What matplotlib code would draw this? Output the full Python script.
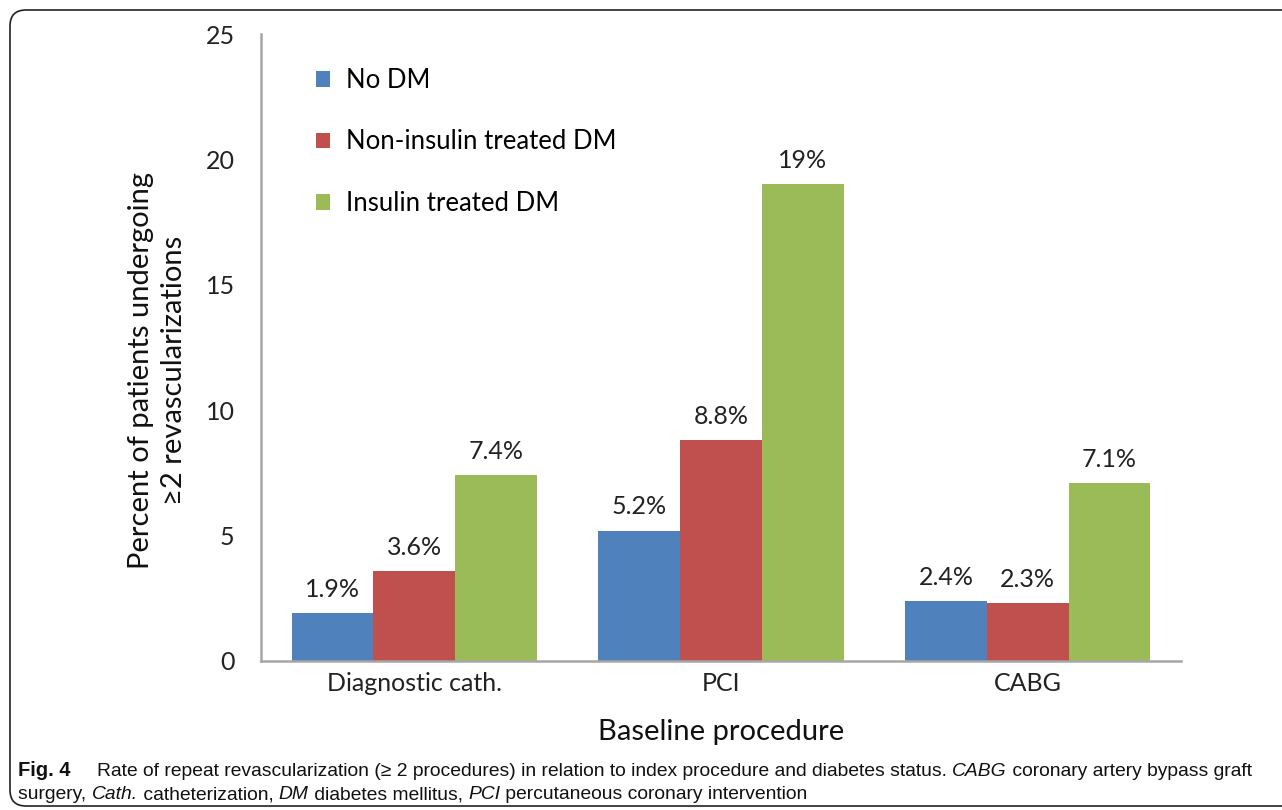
import matplotlib
matplotlib.use("Agg")
import matplotlib.pyplot as plt
import numpy as np
from matplotlib.patches import Patch, FancyBboxPatch
from matplotlib.transforms import IdentityTransform

# data
procedures = ["Diagnostic cath.", "PCI", "CABG"]
no_dm = [1.9, 5.2, 2.4]
non_insulin_dm = [3.6, 8.8, 2.3]
insulin_dm = [7.4, 19, 7.1]
series_names = ["No DM", "Non-insulin treated DM", "Insulin treated DM"]
series_colors = ["#4F81BD", "#C0504D", "#9BBB59"]
y_ticks = [0, 5, 10, 15, 20, 25]

W, H = 1282, 810
plt.rcParams['font.family'] = ['Lato', 'DejaVu Sans']

fig = plt.figure(figsize=(W / 100, H / 100), dpi=100)
ax = fig.add_axes([261 / W, 1 - 661 / H, 920 / W, 627 / H])

x = np.arange(len(procedures))
bw = 0.8 / 3
for i, (vals, col) in enumerate(zip([no_dm, non_insulin_dm, insulin_dm], series_colors)):
    pos = x + (i - 1) * bw
    ax.bar(pos, vals, width=bw, color=col, edgecolor='none', zorder=2)
    for p, v in zip(pos, vals):
        ax.annotate(f"{v:g}%", (p, v), xytext=(0, 17), textcoords='offset points',
                    ha='center', va='center', fontsize=18, color='#222222')

ax.set_xlim(-0.5, 2.5)
ax.set_ylim(0, 25)
ax.set_yticks(y_ticks)
ax.set_xticks(x)
ax.set_xticklabels(procedures)
ax.tick_params(axis='both', length=0, labelsize=18, colors='#222222')
ax.tick_params(axis='y', pad=19)
ax.tick_params(axis='x', pad=8)
for s in ['top', 'right']:
    ax.spines[s].set_visible(False)
for s in ['left', 'bottom']:
    ax.spines[s].set_color('#A6A6A6')
    ax.spines[s].set_linewidth(1.8)

ax.set_ylabel("Percent of patients undergoing\n≥2 revascularizations", fontsize=21,
              linespacing=1.35, color='#111111')
ax.yaxis.set_label_coords(-0.08, 0.464)
ax.set_xlabel("Baseline procedure", fontsize=21, color='#111111')
ax.xaxis.set_label_coords(0.5, -0.093)

handles = [Patch(facecolor=c, label=n) for c, n in zip(series_colors, series_names)]
ax.legend(handles=handles, loc='upper left', bbox_to_anchor=(316 / W, 1 - 68 / H),
          bbox_transform=fig.transFigure, frameon=False, fontsize=18.5,
          handlelength=0.55, handleheight=0.55, handletextpad=0.6,
          labelspacing=1.42, borderpad=0, borderaxespad=0)

# frame around figure + caption
frame = FancyBboxPatch((10, 4), 1400, 796, boxstyle="round,pad=0,rounding_size=16",
                       transform=IdentityTransform(), facecolor='none',
                       edgecolor='#222222', linewidth=1.2)
fig.add_artist(frame)

cap_font = ['Liberation Sans Narrow', 'Liberation Sans', 'DejaVu Sans']
renderer = fig.canvas.get_renderer()


def rich_line(x0, y0, pieces, size=13.9):
    xx = x0
    for txt, style in pieces:
        t = fig.text(xx / W, 1 - y0 / H, txt, fontsize=size, family=cap_font,
                     va='baseline', ha='left', color='#111111', **style)
        xx += t.get_window_extent(renderer).width


rich_line(18, 776, [("Fig. 4", {'fontweight': 'bold'})], size=14.5)
rich_line(97, 776, [
    ("Rate of repeat revascularization (≥ 2 procedures) in relation to index procedure and diabetes status. ", {}),
    ("CABG", {'fontstyle': 'italic'}),
    (" coronary artery bypass graft", {}),
])
rich_line(18, 799, [
    ("surgery, ", {}),
    ("Cath.", {'fontstyle': 'italic'}),
    (" catheterization, ", {}),
    ("DM", {'fontstyle': 'italic'}),
    (" diabetes mellitus, ", {}),
    ("PCI", {'fontstyle': 'italic'}),
    (" percutaneous coronary intervention", {}),
])

fig.savefig("out.png", dpi=100)
